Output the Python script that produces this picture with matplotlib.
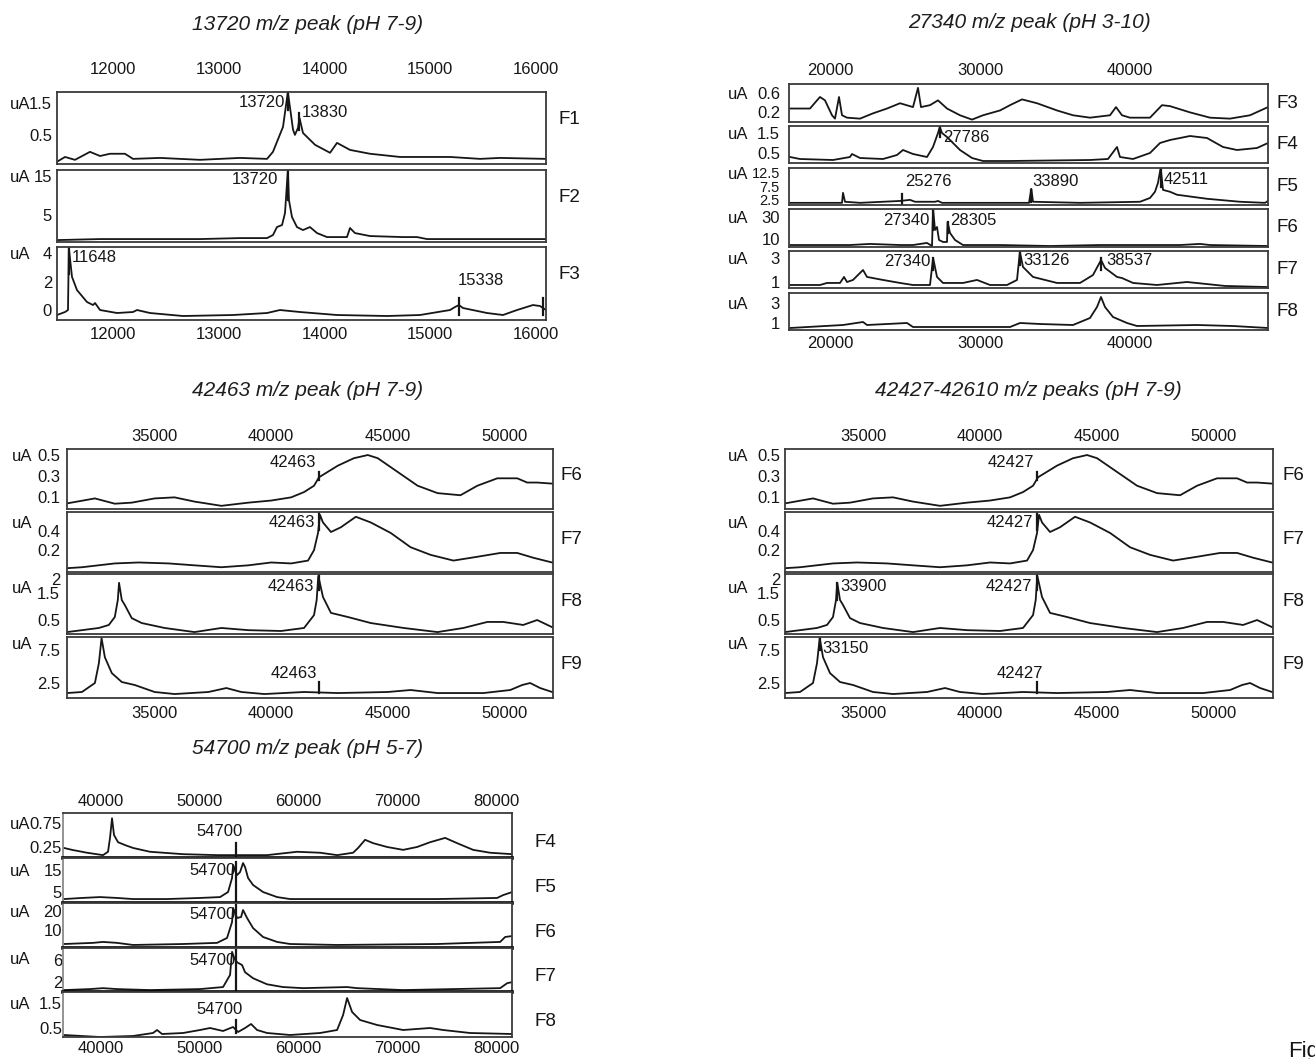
import matplotlib
matplotlib.use("Agg")
import matplotlib.pyplot as plt
from matplotlib import transforms

plt.rcParams["font.family"] = ["Liberation Sans", "DejaVu Sans"]

# ---- 13720 m/z peak (pH 7-9), fractions F1-F3 ----
g1_ticks = [12000, 13000, 14000, 15000, 16000]
g1_f1_mz = [11536, 11612, 11706, 11848, 11943, 12037, 12179, 12255, 12510, 12889, 13267, 13523, 13579, 13674, 13720,
            13769, 13787, 13816, 13830, 13863, 13977, 14119, 14185, 14308, 14497, 14781, 15254, 15538, 15727, 16162]
g1_f1_ua = [-0.34, -0.19, -0.28, -0.03, -0.16, -0.09, -0.09, -0.25, -0.22, -0.28, -0.22, -0.25, -0.03, 0.75, 1.84,
            0.66, 0.5, 0.72, 1.03, 0.56, 0.19, -0.06, 0.25, 0.03, -0.09, -0.19, -0.19, -0.25, -0.22, -0.25]
g1_f2_mz = [11536, 11943, 12416, 12889, 13267, 13523, 13579, 13617, 13665, 13693, 13720, 13730, 13759, 13806, 13863,
            13929, 13996, 14090, 14279, 14308, 14355, 14497, 14809, 14942, 15036, 15538, 16162]
g1_f2_ua = [-1.41, -1.15, -1.15, -1.15, -0.9, -0.9, -0.13, 1.92, 2.44, 5.51, 16.5, 8.85, 4.49, 1.92, 1.15,
            1.92, 0.38, -0.64, -0.64, 1.67, 0.38, -0.38, -0.64, -0.64, -1.15, -1.15, -1.15]
g1_f3_mz = [11536, 11612, 11640, 11648, 11678, 11725, 11820, 11877, 11896, 11943, 12104, 12255, 12293, 12416, 12728,
            13201, 13523, 13645, 13835, 14185, 14658, 14970, 15254, 15301, 15338, 15377, 15604, 15755, 15888, 16039,
            16105, 16162]
g1_f3_ua = [-0.35, -0.14, 0, 4.35, 2.32, 1.4, 0.56, 0.35, 0.49, 0, -0.21, -0.14, 0, -0.21, -0.42,
            -0.35, -0.21, 0, -0.14, -0.35, -0.42, -0.35, 0, 0.21, 0.35, 0.14, -0.21, -0.35, 0, 0.35,
            0.28, 0]

# ---- 27340 m/z peak (pH 3-10), fractions F3-F8 ----
g2_ticks = [20000, 30000, 40000]
g2_f3_mz = [17800, 19133, 19600, 19800, 20133, 20600, 20800, 21067, 21267, 21600, 22467, 23333, 24267, 25133, 26000,
            26333, 26533, 27133, 27667, 28267, 29133, 29933, 30667, 31800, 32467, 33267, 34267, 35600, 36667, 37800,
            39133, 39533, 39933, 40467, 41800, 42600, 43133, 44467, 45800, 47133, 48467, 49667]
g2_f3_ua = [0.28, 0.28, 0.45, 0.52, 0.45, 0.14, 0.07, 0.52, 0.14, 0.09, 0.07, 0.18, 0.28, 0.39, 0.31,
            0.71, 0.31, 0.35, 0.45, 0.28, 0.14, 0.05, 0.14, 0.24, 0.35, 0.47, 0.39, 0.24, 0.14, 0.09,
            0.14, 0.31, 0.14, 0.09, 0.09, 0.35, 0.33, 0.2, 0.09, 0.07, 0.14, 0.31]
g2_f4_mz = [17800, 18467, 20667, 21800, 21933, 22467, 24000, 24933, 25333, 26000, 26933, 27333, 27667, 27786, 27933,
            28267, 29133, 29933, 30667, 32467, 37800, 39000, 39600, 39800, 40667, 41800, 42467, 43133, 44467, 45600,
            46667, 47600, 48933, 49667]
g2_f4_ua = [0.3, 0.2, 0.15, 0.3, 0.45, 0.25, 0.2, 0.4, 0.65, 0.45, 0.3, 0.8, 1.5, 1.8, 1.5,
            1.3, 0.65, 0.25, 0.1, 0.1, 0.15, 0.2, 0.8, 0.3, 0.2, 0.5, 1.0, 1.15, 1.35, 1.25,
            0.8, 0.65, 0.75, 1.0]
g2_f5_mz = [17800, 20467, 21267, 21333, 21467, 22467, 25133, 25800, 26133, 27467, 27667, 27933, 31800, 33733, 33890,
            34000, 37133, 41133, 41800, 42133, 42333, 42511, 42667, 43133, 43600, 45600, 47800, 49467, 49667]
g2_f5_ua = [1.4, 1.4, 1.4, 5.1, 1.8, 1.4, 2.1, 2.5, 1.8, 1.8, 2.1, 1.4, 1.4, 1.4, 6.6,
            1.8, 1.4, 1.8, 3.2, 5.5, 8.8, 14.3, 6.2, 5.5, 4.4, 2.9, 1.8, 1.4, 2.1]
g2_f6_mz = [17800, 21800, 23133, 25133, 26000, 26933, 27267, 27340, 27467, 27600, 27733, 28000, 28267, 28305, 28467,
            28800, 29333, 31800, 35133, 38467, 43800, 45133, 45800, 49667]
g2_f6_ua = [4.5, 4.5, 5.5, 4.5, 4.5, 6.4, 3.6, 37.3, 18.2, 20.9, 9.1, 7.3, 7.3, 25.5, 15.5,
            9.1, 4.5, 4.5, 3.6, 4.5, 4.5, 5.5, 4.5, 3.6]
g2_f7_mz = [17800, 19800, 20267, 21133, 21400, 21600, 22000, 22667, 22933, 24000, 25133, 26000, 27133, 27340, 27600,
            28000, 29333, 30267, 31133, 32267, 32933, 33126, 33333, 34000, 35600, 37133, 38000, 38537, 38800, 39600,
            39933, 40667, 42267, 44267, 46800, 49667]
g2_f7_ua = [0.75, 0.75, 0.92, 0.92, 1.42, 1.0, 1.17, 2.0, 1.42, 1.17, 0.92, 0.75, 0.75, 3.0, 1.42,
            0.92, 0.92, 1.17, 0.75, 0.75, 1.17, 3.5, 2.25, 1.42, 0.92, 0.92, 1.58, 2.83, 2.17, 1.42,
            1.33, 0.92, 0.75, 1.0, 0.67, 0.58]
g2_f8_mz = [17800, 21333, 22667, 22933, 25600, 26000, 32467, 33133, 34467, 36667, 37800, 38267, 38533, 38800, 39333,
            40267, 40933, 44933, 47333, 49667]
g2_f8_ua = [0.5, 0.8, 1.1, 0.8, 1.0, 0.6, 0.6, 1.0, 0.9, 0.8, 1.5, 2.6, 3.6, 2.6, 1.6,
            1.0, 0.7, 0.8, 0.7, 0.5]

# ---- 42463 / 42427-42610 m/z peaks (pH 7-9), fractions F6-F9 (same spectra) ----
g34_ticks = [35000, 40000, 45000, 50000]
g34_f6_mz = [31667, 32864, 33718, 34445, 35428, 36283, 37138, 38292, 39446, 40429, 41284, 41839, 42267, 42480,
             43293, 43977, 44575, 45002, 45857, 46712, 47567, 48550, 49276, 50131, 50986, 51413, 51841, 52482]
g34_f6_ua = [0.043, 0.09, 0.04, 0.05, 0.09, 0.1, 0.06, 0.02, 0.05, 0.07, 0.1, 0.15, 0.21, 0.29,
             0.40, 0.47, 0.5, 0.47, 0.34, 0.21, 0.14, 0.12, 0.21, 0.28, 0.28, 0.24, 0.24, 0.23]
g34_f7_mz = [31667, 32308, 33718, 34744, 36027, 37138, 38292, 39446, 40429, 41284, 42010, 42267, 42438, 42523,
             42651, 42993, 43421, 44062, 44703, 45558, 46412, 47267, 48250, 49276, 50259, 50986, 51670, 52482]
g34_f7_ua = [0.01, 0.02, 0.06, 0.07, 0.06, 0.04, 0.02, 0.04, 0.07, 0.06, 0.09, 0.2, 0.38, 0.57,
             0.49, 0.39, 0.44, 0.55, 0.49, 0.38, 0.23, 0.15, 0.09, 0.13, 0.17, 0.17, 0.12, 0.07]
g34_f8_mz = [31667, 32308, 33035, 33462, 33718, 33847, 33900, 34018, 34146, 34445, 34873, 35856, 37138, 38292,
             39446, 40856, 41839, 42267, 42380, 42450, 42651, 42993, 43720, 44703, 46113, 47567, 48678, 49704,
             50388, 51242, 51841, 52482]
g34_f8_ua = [0.06, 0.13, 0.21, 0.32, 0.61, 1.23, 1.86, 1.23, 1.05, 0.57, 0.39, 0.21, 0.06, 0.21,
             0.13, 0.1, 0.21, 0.68, 1.23, 2.11, 1.34, 0.76, 0.61, 0.39, 0.21, 0.06, 0.21, 0.43,
             0.43, 0.32, 0.5, 0.24]
g34_f9_mz = [31667, 32308, 32864, 33035, 33150, 33292, 33590, 34018, 34573, 35428, 36283, 37736, 38505, 39146,
             40130, 41839, 43293, 45430, 46413, 47567, 49533, 50687, 51200, 51541, 51969, 52482]
g34_f9_ua = [0.98, 1.14, 2.5, 5.5, 9.3, 6.4, 4.0, 2.65, 2.2, 1.14, 0.83, 1.14, 1.74, 1.14,
             0.83, 1.14, 0.98, 1.14, 1.44, 0.98, 0.98, 1.44, 2.2, 2.5, 1.74, 1.14]

# ---- 54700 m/z peak (pH 5-7), fractions F4-F8 ----
g5_ticks = [40000, 50000, 60000, 70000, 80000]
g5_f4_mz = [37266, 38077, 39596, 41217, 41724, 41926, 42129, 42331, 42737, 43446, 44256, 45978, 49321, 52765, 57830,
            60869, 63199, 64921, 66542, 67049, 67758, 68568, 69986, 71607, 73025, 74342, 75862, 77077, 78698, 80420,
            82649]
g5_f4_ua = [0.23, 0.19, 0.13, 0.08, 0.15, 0.44, 0.85, 0.5, 0.35, 0.29, 0.23, 0.15, 0.1, 0.08, 0.08,
            0.15, 0.13, 0.08, 0.13, 0.23, 0.4, 0.33, 0.25, 0.19, 0.25, 0.35, 0.44, 0.33, 0.19, 0.13,
            0.1]
g5_f5_mz = [37266, 39091, 40913, 42635, 44256, 47700, 51043, 53069, 53880, 54285, 54386, 54791, 55095, 55399, 55601,
            55906, 56412, 57425, 58843, 60160, 64921, 75051, 81129, 81737, 82649]
g5_f5_ua = [1.8, 2.3, 2.7, 2.3, 1.8, 1.8, 2.3, 2.7, 5.0, 11.4, 17.3, 12.7, 14.1, 18.2, 16.4,
            11.4, 8.2, 5.0, 2.7, 1.8, 1.8, 1.8, 2.3, 3.6, 5.0]
g5_f6_mz = [37266, 40204, 41217, 42635, 44256, 49321, 52765, 53778, 54285, 54386, 54791, 55196, 55399, 55804, 56412,
            57425, 58843, 60160, 64921, 75051, 81433, 81939, 82649]
g5_f6_ua = [2.6, 3.2, 3.7, 3.2, 2.1, 2.6, 3.2, 5.8, 14.2, 21.6, 16.3, 16.8, 20.5, 16.3, 11,
            6.3, 3.7, 2.6, 2.1, 2.6, 3.7, 6.3, 6.8]
g5_f7_mz = [37266, 39900, 41217, 42635, 45978, 51043, 53373, 54082, 54285, 54487, 54791, 55298, 55601, 56412, 57830,
            59451, 61477, 65934, 66947, 71607, 81433, 82142, 82649]
g5_f7_ua = [0.55, 0.73, 0.9, 0.73, 0.55, 0.73, 1.1, 3.3, 7.5, 6.4, 5.6, 5.1, 3.8, 2.7, 1.6,
            1.1, 0.9, 1.1, 0.9, 0.55, 0.9, 1.8, 2.0]
g5_f8_mz = [37266, 40913, 44256, 46282, 46687, 47194, 49321, 51043, 52056, 53373, 54386, 54893, 55601, 56210, 56817,
            57830, 60160, 63199, 64921, 65529, 65934, 66441, 67251, 68973, 71607, 74342, 75659, 78394, 82649]
g5_f8_ua = [0.22, 0.14, 0.18, 0.3, 0.42, 0.26, 0.3, 0.42, 0.5, 0.38, 0.54, 0.34, 0.5, 0.66, 0.42,
            0.3, 0.22, 0.3, 0.42, 1.02, 1.7, 1.14, 0.82, 0.62, 0.42, 0.5, 0.42, 0.3, 0.26]

W, H = 1315, 1059
INK = "#161616"
fig = plt.figure(figsize=(W / 100, H / 100), dpi=100)


def box(x0, y0, x1, y1):
    return [x0 / W, 1 - y1 / H, (x1 - x0) / W, (y1 - y0) / H]


def draw_group(title, title_xy, x0, x1, xlim, xticks, shift, rows, ua_x, ypad, f_x, f_frac,
               top_pad, bottom_pad, heavy=False):
    fig.text(title_xy[0] / W, 1 - title_xy[1] / H, title, ha="center", va="center",
             fontsize=15, style="italic", color="#1e1e1e")
    n = len(rows)
    for i, r in enumerate(rows):
        ax = fig.add_axes(box(x0, r["top"], x1, r["bottom"]))
        ax.plot(r["mz"], r["ua"], color=INK, lw=1.3)
        for m, lo, hi in r.get("marks", []):
            ax.plot([m, m], [lo, hi], color=INK, lw=1.6)
        for txt, m, y, ha, dx in r.get("notes", []):
            ax.annotate(txt, (m, y), xytext=(dx * 0.72, 0), textcoords="offset points",
                        ha=ha, va="center", fontsize=12, color=INK)
        ax.set_xlim(*xlim)
        ax.set_ylim(*r["ylim"])
        ax.set_xticks(xticks, [str(t) for t in xticks])
        ax.set_yticks(r["yt"], r["ytl"])
        pad = top_pad if i == 0 else bottom_pad
        ax.tick_params(axis="x", length=0, labelsize=12, pad=pad * 0.72, top=False, bottom=False,
                       labeltop=(i == 0), labelbottom=(i == n - 1), colors=INK)
        ax.tick_params(axis="y", length=0, labelsize=r.get("yfs", 12), pad=ypad * 0.72, colors=INK)
        for sp in ax.spines.values():
            sp.set_color("#3a3a3a")
            sp.set_linewidth(1.3)
        if heavy:
            ax.spines["left"].set_color("#8a8a8a")
            if i < n - 1:
                ax.spines["bottom"].set_color("black")
                ax.spines["bottom"].set_linewidth(2.6)
        # the original software prints m/z labels a few pixels right of the true position
        off = transforms.ScaledTranslation(shift / 100, 0, fig.dpi_scale_trans)
        for t in ax.xaxis.get_major_ticks():
            t.label1.set_transform(t.label1.get_transform() + off)
            t.label2.set_transform(t.label2.get_transform() + off)
        ua_tr = transforms.blended_transform_factory(fig.transFigure, ax.transData)
        ax.text(ua_x / W, r["uay"], "uA", transform=ua_tr, ha="left", va="center_baseline",
                fontsize=12, color=INK)
        f_tr = transforms.blended_transform_factory(fig.transFigure, ax.transAxes)
        ax.text(f_x / W, f_frac, r["name"], transform=f_tr, ha="left", va="center", fontsize=13.5, color=INK)


g1_rows = [
    dict(name="F1", top=92, bottom=164, mz=g1_f1_mz, ua=g1_f1_ua, ylim=(-0.41, 1.84), yt=[0.5, 1.5],
         ytl=["0.5", "1.5"], uay=1.5,
         marks=[(13720, 1.28, 1.84), (13830, 0.66, 1.19)],
         notes=[("13720", 13720, 1.5, "right", -3), ("13830", 13830, 1.19, "left", 2)]),
    dict(name="F2", top=170, bottom=242, mz=g1_f2_mz, ua=g1_f2_ua, ylim=(-1.9, 16.5), yt=[5, 15],
         ytl=["5", "15"], uay=15,
         marks=[(13720, 8.8, 16.5)],
         notes=[("13720", 13720, 14.0, "right", -10)]),
    dict(name="F3", top=247, bottom=320, mz=g1_f3_mz, ua=g1_f3_ua, ylim=(-0.7, 4.42), yt=[0, 2, 4],
         ytl=["0", "2", "4"], uay=4,
         marks=[(11648, 2.5, 4.4), (15338, -0.35, 0.84), (16130, -0.35, 0.84)],
         notes=[("11648", 11648, 3.65, "left", 3), ("15338", 15338, 2.1, "left", -1)]),
]
draw_group("13720 m/z peak (pH 7-9)", (308, 25), 57, 546, (11536, 16162), g1_ticks, 7, g1_rows,
           10, 5, 558, 0.62, 15, 7)

g2_rows = [
    dict(name="F3", top=84, bottom=122, mz=g2_f3_mz, ua=g2_f3_ua, ylim=(0, 0.79), yt=[0.2, 0.6],
         ytl=["0.2", "0.6"], uay=0.6),
    dict(name="F4", top=126, bottom=163, mz=g2_f4_mz, ua=g2_f4_ua, ylim=(0, 1.85), yt=[0.5, 1.5],
         ytl=["0.5", "1.5"], uay=1.5,
         marks=[(27786, 1.3, 1.85)], notes=[("27786", 27786, 1.3, "left", 3)]),
    dict(name="F5", top=168, bottom=205, mz=g2_f5_mz, ua=g2_f5_ua, ylim=(0.6, 14.3), yt=[2.5, 7.5, 12.5],
         ytl=["2.5", "7.5", "12.5"], uay=12.5, yfs=10.5,
         marks=[(25276, 1.0, 4.7), (33890, 1.8, 6.2), (42511, 7.3, 14.3)],
         notes=[("25276", 25276, 9.2, "left", 3), ("33890", 33890, 9.2, "left", 1),
                ("42511", 42511, 9.9, "left", 3)]),
    dict(name="F6", top=209, bottom=247, mz=g2_f6_mz, ua=g2_f6_ua, ylim=(2.7, 37.3), yt=[10, 30],
         ytl=["10", "30"], uay=30,
         marks=[(27340, 18, 37.3), (28305, 15.5, 25.5)],
         notes=[("27340", 27340, 26.4, "right", -4), ("28305", 28305, 26.4, "left", 3)]),
    dict(name="F7", top=251, bottom=288, mz=g2_f7_mz, ua=g2_f7_ua, ylim=(0.5, 3.58), yt=[1, 3],
         ytl=["1", "3"], uay=3,
         marks=[(27340, 2.0, 3.0), (33126, 2.4, 3.5), (38537, 2.0, 3.0)],
         notes=[("27340", 27340, 2.67, "right", -3), ("33126", 33126, 2.83, "left", 3),
                ("38537", 38537, 2.83, "left", 5)]),
    dict(name="F8", top=293, bottom=330, mz=g2_f8_mz, ua=g2_f8_ua, ylim=(0.3, 4.0), yt=[1, 3],
         ytl=["1", "3"], uay=3),
]
draw_group("27340 m/z peak (pH 3-10)", (1030, 23), 789, 1268, (17733, 49667), g2_ticks, 7, g2_rows,
           728, 9, 1276, 0.5, 6, 6)


def g34_rows(peak, extra8, extra9, f9_dx):
    return [
        dict(name="F6", top=449, bottom=509, mz=g34_f6_mz, ua=g34_f6_ua, ylim=(-0.01, 0.557),
             yt=[0.1, 0.3, 0.5], ytl=["0.1", "0.3", "0.5"], uay=0.5,
             marks=[(peak, 0.26, 0.34)], notes=[(str(peak), peak, 0.43, "right", -3)]),
        dict(name="F7", top=512, bottom=572, mz=g34_f7_mz, ua=g34_f7_ua, ylim=(-0.03, 0.6),
             yt=[0.2, 0.4], ytl=["0.2", "0.4"], uay=0.49,
             marks=[(peak, 0.41, 0.6)], notes=[(str(peak), peak, 0.49, "right", -4)]),
        dict(name="F8", top=574, bottom=634, mz=g34_f8_mz, ua=g34_f8_ua, ylim=(-0.01, 2.18),
             yt=[0.5, 1.5, 2], ytl=["0.5", "1.5", "2"], uay=1.71,
             marks=[(peak, 1.6, 2.18)] + [(m, 1.23, 1.86) for m in extra8],
             notes=[(str(peak), peak, 1.71, "right", -5)] + [(str(m), m, 1.71, "left", 3) for m in extra8]),
        dict(name="F9", top=637, bottom=698, mz=g34_f9_mz, ua=g34_f9_ua, ylim=(0.23, 9.47),
             yt=[2.5, 7.5], ytl=["2.5", "7.5"], uay=8.56,
             marks=[(peak, 1.0, 2.65)] + [(m, 7.5, 9.4) for m in extra9],
             notes=[(str(peak), peak, 4.0, "right", f9_dx)] + [(str(m), m, 7.8, "left", 3) for m in extra9]),
    ]


draw_group("42463 m/z peak (pH 7-9)", (308, 390), 67, 553, (31667, 52521), g34_ticks, 10,
           g34_rows(42463, [], [], -2), 12, 7, 560, 0.55, 5, 8)
draw_group("42427-42610 m/z peaks (pH 7-9)", (1028, 390), 785, 1273, (31667, 52521), g34_ticks, 0,
           g34_rows(42427, [33900], [33150], 6), 728, 5, 1282, 0.55, 5, 8)

g5_rows = [
    dict(name="F4", top=813, bottom=858, mz=g5_f4_mz, ua=g5_f4_ua, ylim=(0.02, 0.96), yt=[0.25, 0.75],
         ytl=["0.25", "0.75"], uay=0.75,
         marks=[(54700, 0.02, 0.33)], notes=[("54700", 54700, 0.58, "right", 6)]),
    dict(name="F5", top=858, bottom=903, mz=g5_f5_mz, ua=g5_f5_ua, ylim=(0, 20.5), yt=[5, 15],
         ytl=["5", "15"], uay=15,
         marks=[(54700, 0.45, 18.6)], notes=[("54700", 54700, 15, "right", -1)]),
    dict(name="F6", top=903, bottom=948, mz=g5_f6_mz, ua=g5_f6_ua, ylim=(0.5, 24.2), yt=[10, 20],
         ytl=["10", "20"], uay=20,
         marks=[(54700, 2.1, 23)], notes=[("54700", 54700, 18.4, "right", -1)]),
    dict(name="F7", top=948, bottom=992, mz=g5_f7_mz, ua=g5_f7_ua, ylim=(0.2, 8.2), yt=[2, 6],
         ytl=["2", "6"], uay=6.36,
         marks=[(54700, 0.55, 7.8)], notes=[("54700", 54700, 6.0, "right", -1)]),
    dict(name="F8", top=992, bottom=1037, mz=g5_f8_mz, ua=g5_f8_ua, ylim=(0.14, 1.94), yt=[0.5, 1.5],
         ytl=["0.5", "1.5"], uay=1.5,
         marks=[(54700, 0.3, 0.82)], notes=[("54700", 54700, 1.26, "right", 6)]),
]
draw_group("54700 m/z peak (pH 5-7)", (308, 748), 63, 512, (37165, 82633), g5_ticks, 10, g5_rows,
           10, 1, 534, 0.35, 4, 4, heavy=True)

# figure caption runs off the right edge in the source image as well
fig.text(1288 / W, 1 - 1052 / H, "Fig", ha="left", va="center", fontsize=16, color=INK)

fig.savefig("out.png", dpi=100)
